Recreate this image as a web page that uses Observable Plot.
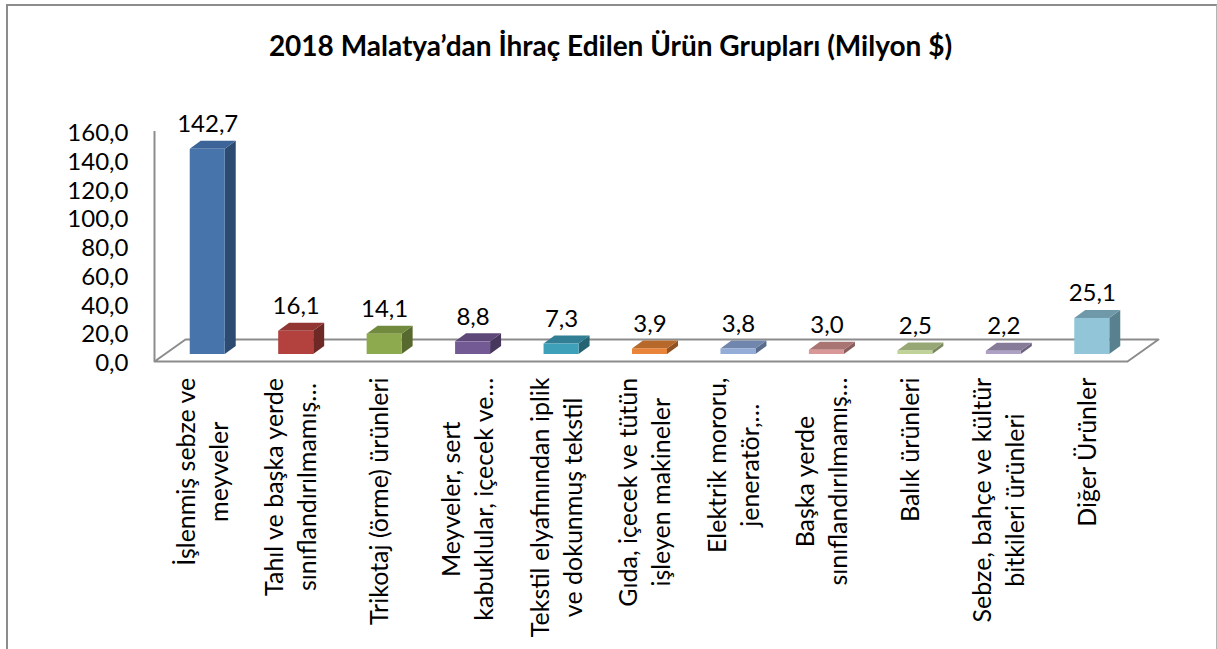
<!DOCTYPE html>
<html>
<head>
<meta charset="utf-8">
<script src="https://cdn.jsdelivr.net/npm/d3@7"></script>
<script src="https://cdn.jsdelivr.net/npm/@observablehq/plot@0.6"></script>
<style>
  html, body { margin: 0; padding: 0; background: #fff; width: 1217px; height: 649px; overflow: hidden; }
  #frame { position: absolute; left: 6px; top: 4px; width: 1208px; height: 700px;
           border-left: 2px solid #8c8c8c; border-top: 2px solid #8c8c8c; border-right: 1px solid #b4b4b4; }
  #title { position: absolute; left: 0; top: 30px; width: 1221px; text-align: center;
           font: bold 28px Lato, "Open Sans", sans-serif; line-height: 30px; color: #000; }
  #chart { position: absolute; left: 0; top: 80px; }
</style>
</head>
<body>
<div id="frame"></div>
<div id="title">2018 Malatya’dan İhraç Edilen Ürün Grupları (Milyon $)</div>
<div id="chart"></div>
<script>
// ---- data ----
const categories = [
  "İşlenmiş sebze ve\nmeyveler",
  "Tahıl ve başka yerde\nsınıflandırılmamış…",
  "Trikotaj (örme) ürünleri",
  "Meyveler, sert\nkabuklular, içecek ve…",
  "Tekstil elyafınından iplik\nve dokunmuş tekstil",
  "Gıda, içecek ve tütün\nişleyen makineler",
  "Elektrik mororu,\njeneratör,…",
  "Başka yerde\nsınıflandırılmamış…",
  "Balık ürünleri",
  "Sebze, bahçe ve kültür\nbitkileri ürünleri",
  "Diğer Ürünler"
];
const values = [142.7, 16.1, 14.1, 8.8, 7.3, 3.9, 3.8, 3.0, 2.5, 2.2, 25.1];
const valueLabels = ["142,7", "16,1", "14,1", "8,8", "7,3", "3,9", "3,8", "3,0", "2,5", "2,2", "25,1"];
const yTicks = [0, 20, 40, 60, 80, 100, 120, 140, 160];
const yTickLabels = ["0,0", "20,0", "40,0", "60,0", "80,0", "100,0", "120,0", "140,0", "160,0"];
const frontColors = ["#4674AB", "#B3423F", "#8DAA4E", "#745A95", "#3FA0BA", "#E8853A", "#93ACD8", "#D99897", "#BFD397", "#AFA1C5", "#92C5D8"];
const topColors   = ["#3D6499", "#913633", "#718A3D", "#5D4879", "#327F95", "#B7692C", "#7086AC", "#A87573", "#97A775", "#877B9A", "#6F98A8"];
const sideColors  = ["#2D4B71", "#6E2927", "#58692F", "#47375D", "#276473", "#925322", "#5A6C8B", "#8A5E5D", "#7B885F", "#6C627C", "#59808E"];

// ---- layout ----
const W = 1217, H = 569;
const ML = 154, MR = 90, MT = 51, MB = 288;
const kx = (W - ML - MR) / categories.length;   // px per category
const ky = (H - MT - MB) / 160;                 // px per unit
const FS = 25;                                  // category label font size
const NFS = 24;                                 // number font size
const font = "Lato, 'Open Sans', sans-serif";

// floor depth (px) and bar depth (px)
const floorDX = 31, floorDY = 22;
const barShiftX = 9, barShiftY = 7;
const barDX = 11, barDY = 8;
const barW = 35;

const rows = values.map((v, i) => ({i, v, label: valueLabels[i],
  x1: i - barW / 2 / kx, x2: i + barW / 2 / kx,
  front: frontColors[i], top: topColors[i], side: sideColors[i]}));

const ddx = barDX / kx, ddy = barDY / ky;
const sidePts = rows.flatMap(r => [
  {i: r.i, x: r.x2, y1: 0, y2: r.v, c: r.side},
  {i: r.i, x: r.x2 + ddx, y1: ddy, y2: r.v + ddy, c: r.side}
]);
const topPts = rows.flatMap(r => [
  {i: r.i, y: r.v, x1: r.x1, x2: r.x2, c: r.top},
  {i: r.i, y: r.v + ddy, x1: r.x1 + ddx, x2: r.x2 + ddx, c: r.top}
]);

const x0 = -0.5, x1 = categories.length - 0.5;
const fdx = floorDX / kx, fdy = floorDY / ky;
const floor = [
  {x: x0, y: 0}, {x: x1, y: 0}, {x: x1 + fdx, y: fdy}, {x: x0 + fdx, y: fdy}, {x: x0, y: 0}
];

// measure label widths for centering multi-line rotated blocks
const ctx = document.createElement("canvas").getContext("2d");
ctx.font = `${FS}px ${font}`;
const labelMarks = categories.map((c, i) => {
  const w = Math.max(...c.split("\n").map(s => ctx.measureText(s).width));
  return Plot.text([c], {
    x: () => i, frameAnchor: "bottom", text: d => d,
    rotate: -90, textAnchor: "middle", lineAnchor: "middle",
    lineHeight: 33 / FS, fontSize: FS, fill: "#000",
    dx: 2, dy: 16 + w / 2
  });
});

const chart = Plot.plot({
  width: W, height: H,
  marginLeft: ML, marginRight: MR, marginTop: MT, marginBottom: MB,
  style: {fontFamily: font, background: "transparent", overflow: "visible"},
  x: {domain: [x0, x1], axis: null},
  y: {domain: [0, 160], axis: null},
  marks: [
    Plot.line(floor, {x: "x", y: "y", stroke: "#8c8c8c", strokeWidth: 2}),
    Plot.ruleX([x0], {y1: 0, y2: 160, stroke: "#8c8c8c", strokeWidth: 2}),
    Plot.text(yTicks, {x: () => x0, y: d => d, text: (d, i) => yTickLabels[i],
      textAnchor: "end", dx: -26, dy: 2, fontSize: NFS, fill: "#000"}),
    Plot.areaY(sidePts, {x: "x", y1: "y1", y2: "y2", z: "i", fill: "c", dx: barShiftX, dy: -barShiftY}),
    Plot.areaX(topPts, {y: "y", x1: "x1", x2: "x2", z: "i", fill: "c", dx: barShiftX, dy: -barShiftY}),
    Plot.rect(rows, {x1: "x1", x2: "x2", y1: () => 0, y2: "v", fill: "front", dx: barShiftX, dy: -barShiftY}),
    Plot.text(rows, {x: "i", y: "v", text: "label", dx: barShiftX, dy: -barShiftY - 25,
      fontSize: NFS, fill: "#000", lineAnchor: "middle"}),
    ...labelMarks
  ]
});
document.getElementById("chart").appendChild(chart);
</script>
</body>
</html>
